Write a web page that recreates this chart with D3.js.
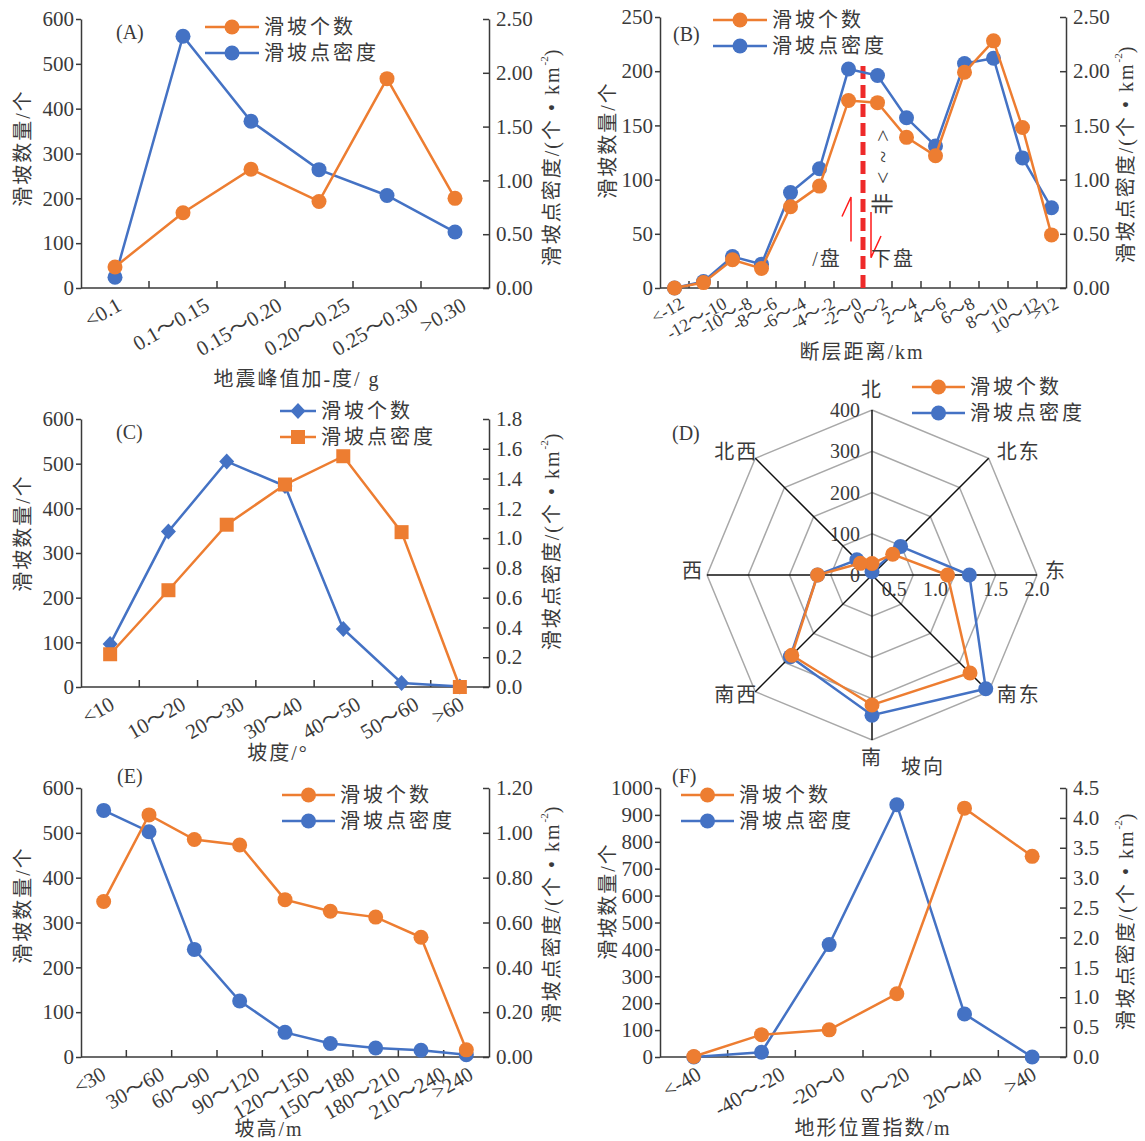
<!DOCTYPE html>
<html>
<head>
<meta charset="utf-8">
<script src="https://cdn.jsdelivr.net/npm/d3@7"></script>
<style>
  body { margin: 0; background: #fff; }
  svg text { font-family: "Liberation Serif", "Times New Roman", "Noto Sans CJK SC", serif; fill: #3a3a3a; }
</style>
</head>
<body>
<svg id="chart" width="1145" height="1141"></svg>
<script>
const ORANGE = "#ED7D31", BLUE = "#4472C4", INK = "#3a3a3a";
const seriesNames = ["滑坡个数", "滑坡点密度"];

// (A) peak ground acceleration
const pgaCats = ["<0.1", "0.1～0.15", "0.15～0.20", "0.20～0.25", "0.25～0.30", ">0.30"];
const pgaCount = [47, 168, 265, 193, 467, 200];
const pgaDensity = [0.10, 2.34, 1.55, 1.10, 0.86, 0.52];
const pgaLeftTicks = [0, 100, 200, 300, 400, 500, 600];
const pgaRightTicks = [0, 0.5, 1.0, 1.5, 2.0, 2.5];

// (B) distance to fault
const faultCats = ["<-12", "-12～-10", "-10～-8", "-8～-6", "-6～-4", "-4～-2", "-2～0", "0～2", "2～4", "4～6", "6～8", "8～10", "10～12", ">12"];
const faultCount = [0, 5, 26, 18, 75, 94, 173, 171, 139, 122, 199, 228, 148, 49];
const faultDensity = [0.0, 0.06, 0.29, 0.22, 0.88, 1.10, 2.02, 1.96, 1.57, 1.31, 2.07, 2.12, 1.20, 0.74];
const faultLeftTicks = [0, 50, 100, 150, 200, 250];
const faultRightTicks = [0, 0.5, 1.0, 1.5, 2.0, 2.5];

// (C) slope
const slopeCats = ["<10", "10～20", "20～30", "30～40", "40～50", "50～60", ">60"];
const slopeCount = [96, 348, 505, 450, 130, 9, 1];
const slopeDensity = [0.22, 0.65, 1.09, 1.36, 1.55, 1.04, 0.0];
const slopeLeftTicks = [0, 100, 200, 300, 400, 500, 600];
const slopeRightTicks = [0, 0.2, 0.4, 0.6, 0.8, 1.0, 1.2, 1.4, 1.6, 1.8];

// (D) aspect
const aspectCats = ["北", "北东", "东", "南东", "南", "南西", "西", "北西"];
const aspectCount = [28, 71, 183, 336, 315, 275, 132, 40];
const aspectDensity = [0.04, 0.49, 1.18, 1.95, 1.70, 1.40, 0.66, 0.26];
const aspectCountTicks = [0, 100, 200, 300, 400];
const aspectDensityTicks = [0.5, 1.0, 1.5, 2.0];

// (E) slope height
const heightCats = ["<30", "30～60", "60～90", "90～120", "120～150", "150～180", "180～210", "210～240", ">240"];
const heightCount = [347, 540, 485, 473, 351, 325, 312, 267, 16];
const heightDensity = [1.10, 1.005, 0.48, 0.25, 0.11, 0.06, 0.04, 0.03, 0.01];
const heightLeftTicks = [0, 100, 200, 300, 400, 500, 600];
const heightRightTicks = [0, 0.2, 0.4, 0.6, 0.8, 1.0, 1.2];

// (F) topographic position index
const tpiCats = ["<-40", "-40～-20", "-20～0", "0～20", "20～40", ">40"];
const tpiCount = [2, 83, 101, 235, 925, 746];
const tpiDensity = [0.0, 0.08, 1.88, 4.22, 0.72, 0.0];
const tpiLeftTicks = [0, 100, 200, 300, 400, 500, 600, 700, 800, 900, 1000];
const tpiRightTicks = [0, 0.5, 1.0, 1.5, 2.0, 2.5, 3.0, 3.5, 4.0, 4.5];

const svg = d3.select("#chart");

function marker(sel, shape, color) {
  if (shape === "diamond") {
    sel.append("path").attr("d", "M0,-8L7.5,0L0,8L-7.5,0Z").attr("fill", color);
  } else if (shape === "square") {
    sel.append("rect").attr("x", -7).attr("y", -7).attr("width", 14).attr("height", 14).attr("fill", color);
  } else {
    sel.append("circle").attr("r", 7.5).attr("fill", color);
  }
}

function legend(g, lg, items) {
  items.forEach((it, i) => {
    const y = lg.y + i * 26;
    g.append("line").attr("x1", lg.x1).attr("x2", lg.x2).attr("y1", y).attr("y2", y)
      .attr("stroke", it.color).attr("stroke-width", 2.5);
    marker(g.append("g").attr("transform", `translate(${(lg.x1 + lg.x2) / 2},${y})`), it.shape, it.color);
    g.append("text").attr("x", lg.x2 + 5).attr("y", y).attr("dominant-baseline", "central")
      .style("font-size", "20px").style("letter-spacing", "3px").text(it.name);
  });
}

function leftLabel(g, x, y) {
  g.append("text").attr("transform", `translate(${x},${y}) rotate(-90)`)
    .attr("text-anchor", "middle").attr("dominant-baseline", "central")
    .style("font-size", "20px").style("letter-spacing", "2px").text("滑坡数量/个");
}

function rightLabel(g, x, y) {
  const t = g.append("text").attr("transform", `translate(${x},${y}) rotate(-90)`)
    .attr("text-anchor", "middle").attr("dominant-baseline", "central")
    .style("font-size", "20px");
  t.append("tspan").style("letter-spacing", "2px").text("滑坡点密度/(个 • km");
  t.append("tspan").attr("dy", -8).style("font-size", "11px").text("-2");
  t.append("tspan").attr("dy", 8).text(")");
}

function styleAxis(a, size) {
  a.attr("font-size", null).attr("font-family", null);
  a.selectAll("path, line").attr("stroke", INK).attr("stroke-width", 1.5);
  a.selectAll("text").style("font-size", size + "px").attr("fill", INK);
}

function linePanel(p) {
  const g = svg.append("g");
  const x = d3.scaleBand().domain(p.cats).range([p.left, p.right]);
  const yL = d3.scaleLinear().domain([0, d3.max(p.leftTicks)]).range([p.bottom, p.top]);
  const yR = d3.scaleLinear().domain([0, d3.max(p.rightTicks)]).range([p.bottom, p.top]);
  const cx = d => x(d) + x.bandwidth() / 2;

  g.append("g").attr("transform", `translate(${p.left},0)`)
    .call(d3.axisLeft(yL).tickValues(p.leftTicks).tickSize(5).tickSizeOuter(0).tickPadding(2).tickFormat(d3.format("d")))
    .call(a => styleAxis(a, 21));
  g.append("g").attr("transform", `translate(${p.right},0)`)
    .call(d3.axisRight(yR).tickValues(p.rightTicks).tickSize(-6).tickSizeOuter(0).tickPadding(7).tickFormat(d3.format(p.rightFmt)))
    .call(a => styleAxis(a, 21));

  // category axis with ticks between categories
  g.append("line").attr("x1", p.left).attr("x2", p.right).attr("y1", p.bottom).attr("y2", p.bottom)
    .attr("stroke", INK).attr("stroke-width", 1.5);
  g.selectAll(".xt").data(p.cats.slice(1)).join("line")
    .attr("x1", d => x(d)).attr("x2", d => x(d)).attr("y1", p.bottom).attr("y2", p.bottom - 7)
    .attr("stroke", INK).attr("stroke-width", 1.5);
  g.selectAll(".xl").data(p.cats).join("text")
    .attr("text-anchor", "middle").attr("dominant-baseline", "central")
    .style("font-size", p.xFont + "px")
    .text(d => d)
    .attr("transform", function (d) {
      const L = this.getComputedTextLength();
      const tx = cx(d) + p.xdx;
      const ty = p.bottom + 6 + (L * 0.5 + p.xFont * 0.87) / 2;
      return `translate(${tx},${ty}) rotate(-30)`;
    });

  if (p.extra) p.extra(g, x, yL);

  p.series.forEach(s => {
    const y = s.axis === "left" ? yL : yR;
    const line = d3.line().x((d, i) => cx(p.cats[i])).y(d => y(d));
    g.append("path").attr("d", line(s.vals)).attr("fill", "none")
      .attr("stroke", s.color).attr("stroke-width", 2.5);
    s.vals.forEach((v, i) => {
      marker(g.append("g").attr("transform", `translate(${cx(p.cats[i])},${y(v)})`), s.shape, s.color);
    });
  });

  legend(g, p.legend, p.legendItems);
  g.append("text").attr("x", p.tag[1]).attr("y", p.tag[2]).style("font-size", "20px").text(p.tag[0]);
  g.append("text").attr("x", p.title[1]).attr("y", p.title[2]).attr("text-anchor", "middle")
    .attr("dominant-baseline", "central").style("font-size", "20px").style("letter-spacing", "2px").text(p.title[0]);
  leftLabel(g, p.leftLabel[0], p.leftLabel[1]);
  rightLabel(g, p.rightLabel[0], p.rightLabel[1]);
}

const circleItems = [
  { name: seriesNames[0], color: ORANGE, shape: "circle" },
  { name: seriesNames[1], color: BLUE, shape: "circle" }
];

// (A)
linePanel({
  cats: pgaCats, left: 81, right: 489, top: 19, bottom: 288,
  leftTicks: pgaLeftTicks, rightTicks: pgaRightTicks, rightFmt: ".2f", xFont: 21, xdx: -12,
  series: [
    { vals: pgaDensity, axis: "right", color: BLUE, shape: "circle" },
    { vals: pgaCount, axis: "left", color: ORANGE, shape: "circle" }
  ],
  legend: { x1: 205, x2: 259, y: 27 }, legendItems: circleItems,
  tag: ["(A)", 116, 39], title: ["地震峰值加-度/ g", 297, 379],
  leftLabel: [23, 148], rightLabel: [552, 158]
});

// (B)
const faultTop = 205;
linePanel({
  cats: faultCats, left: 660, right: 1066, top: 17, bottom: 288,
  leftTicks: faultLeftTicks, rightTicks: faultRightTicks, rightFmt: ".2f", xFont: 18, xdx: -7,
  series: [
    { vals: faultDensity, axis: "right", color: BLUE, shape: "circle" },
    { vals: faultCount, axis: "left", color: ORANGE, shape: "circle" }
  ],
  legend: { x1: 713, x2: 767, y: 20 }, legendItems: circleItems,
  tag: ["(B)", 673, 41], title: ["断层距离/km", 862, 352],
  leftLabel: [608, 140], rightLabel: [1126, 155],
  extra: (g, x, y) => {
    const fx = x("0～2");
    g.append("line").attr("x1", fx).attr("x2", fx).attr("y1", y(0)).attr("y2", y(faultTop))
      .attr("stroke", "#ee2a2a").attr("stroke-width", 5).attr("stroke-dasharray", "13,6");
    const red = { stroke: "#ff1a1a", "stroke-width": 1.5, fill: "none" };
    const up = g.append("path").attr("d", `M${fx - 12},${y(43)}V${y(84)}L${fx - 21},${y(66)}`);
    const down = g.append("path").attr("d", `M${fx + 8},${y(70)}V${y(28)}L${fx + 18},${y(48)}`);
    [up, down].forEach(s => Object.entries(red).forEach(([k, v]) => s.attr(k, v)));
    g.append("text").attr("x", fx - 36).attr("y", y(27)).attr("text-anchor", "middle")
      .attr("dominant-baseline", "central").style("font-size", "20px").style("letter-spacing", "2px").text("/盘");
    g.append("text").attr("x", fx + 30).attr("y", y(27)).attr("text-anchor", "middle")
      .attr("dominant-baseline", "central").style("font-size", "20px").style("letter-spacing", "2px").text("下盘");
    g.append("text").attr("transform", `translate(${fx + 19},${y(111)}) rotate(-90)`)
      .attr("text-anchor", "middle").attr("dominant-baseline", "central")
      .style("font-size", "22px").style("letter-spacing", "9px").text("非<~>");
  }
});

// (C)
linePanel({
  cats: slopeCats, left: 81, right: 489, top: 419, bottom: 687,
  leftTicks: slopeLeftTicks, rightTicks: slopeRightTicks, rightFmt: ".1f", xFont: 21, xdx: -12,
  series: [
    { vals: slopeCount, axis: "left", color: BLUE, shape: "diamond" },
    { vals: slopeDensity, axis: "right", color: ORANGE, shape: "square" }
  ],
  legend: { x1: 280, x2: 316, y: 411 },
  legendItems: [
    { name: seriesNames[0], color: BLUE, shape: "diamond" },
    { name: seriesNames[1], color: ORANGE, shape: "square" }
  ],
  tag: ["(C)", 116, 439], title: ["坡度/°", 278, 753],
  leftLabel: [23, 533], rightLabel: [552, 542]
});

// (D) radar
(function () {
  const g = svg.append("g");
  const cx = 872, cy = 575, R = 165;
  const rC = d3.scaleLinear().domain([0, d3.max(aspectCountTicks)]).range([0, R]);
  const rD = d3.scaleLinear().domain([0, d3.max(aspectDensityTicks)]).range([0, R]);
  const ang = d3.scalePoint().domain(aspectCats).range([0, Math.PI * 2 * 7 / 8]);
  const pt = (r, c) => [cx + r * Math.sin(ang(c)), cy - r * Math.cos(ang(c))];
  const ring = d3.line().curve(d3.curveLinearClosed);

  aspectCountTicks.slice(1).forEach(v => {
    g.append("path").attr("d", ring(aspectCats.map(c => pt(rC(v), c))))
      .attr("fill", "none").attr("stroke", "#a8a8a8").attr("stroke-width", 1.5);
  });
  aspectCats.forEach(c => {
    const [x2, y2] = pt(R, c);
    g.append("line").attr("x1", cx).attr("y1", cy).attr("x2", x2).attr("y2", y2)
      .attr("stroke", "#111").attr("stroke-width", 1.5);
    const s = Math.sin(ang(c)), k = Math.cos(ang(c));
    const anchor = s > 0.1 ? "start" : s < -0.1 ? "end" : "middle";
    const dx = s > 0.1 ? 8 : s < -0.1 ? (Math.abs(k) > 0.1 ? 3 : -3) : 0;
    const dy = k > 0.9 ? -20 : k < -0.9 ? 18 : k > 0.1 ? -6 : k < -0.1 ? 3 : -4;
    g.append("text").attr("x", x2 + dx).attr("y", y2 + dy).attr("text-anchor", anchor)
      .attr("dominant-baseline", "central").style("font-size", "20px").style("letter-spacing", "2px").text(c);
  });
  aspectCountTicks.forEach(v => {
    g.append("text").attr("x", cx - 12).attr("y", cy - rC(v)).attr("text-anchor", "end")
      .attr("dominant-baseline", "central").style("font-size", "20px").text(v);
  });
  aspectDensityTicks.forEach(v => {
    g.append("text").attr("x", cx + rD(v) + (v < 1.25 ? -19 : 0)).attr("y", cy + 14)
      .attr("text-anchor", "middle").attr("dominant-baseline", "central")
      .style("font-size", "20px").text(d3.format(".1f")(v));
  });

  [[aspectDensity, rD, BLUE], [aspectCount, rC, ORANGE]].forEach(([vals, sc, color]) => {
    const pts = vals.map((v, i) => pt(sc(v), aspectCats[i]));
    g.append("path").attr("d", ring(pts)).attr("fill", "none").attr("stroke", color).attr("stroke-width", 2.5);
    pts.forEach(p => g.append("circle").attr("cx", p[0]).attr("cy", p[1]).attr("r", 7.5).attr("fill", color));
  });

  legend(g, { x1: 912, x2: 965, y: 387 }, circleItems);
  g.append("text").attr("x", 672).attr("y", 440).style("font-size", "20px").text("(D)");
  g.append("text").attr("x", 923).attr("y", 767).attr("text-anchor", "middle").attr("dominant-baseline", "central")
    .style("font-size", "20px").style("letter-spacing", "2px").text("坡向");
})();

// (E)
linePanel({
  cats: heightCats, left: 81, right: 489, top: 788, bottom: 1057,
  leftTicks: heightLeftTicks, rightTicks: heightRightTicks, rightFmt: ".2f", xFont: 21, xdx: -14,
  series: [
    { vals: heightDensity, axis: "right", color: BLUE, shape: "circle" },
    { vals: heightCount, axis: "left", color: ORANGE, shape: "circle" }
  ],
  legend: { x1: 282, x2: 335, y: 795 }, legendItems: circleItems,
  tag: ["(E)", 117, 783], title: ["坡高/m", 269, 1129],
  leftLabel: [23, 905], rightLabel: [552, 915]
});

// (F)
linePanel({
  cats: tpiCats, left: 660, right: 1066, top: 788, bottom: 1057,
  leftTicks: tpiLeftTicks, rightTicks: tpiRightTicks, rightFmt: ".1f", xFont: 21, xdx: -12,
  series: [
    { vals: tpiDensity, axis: "right", color: BLUE, shape: "circle" },
    { vals: tpiCount, axis: "left", color: ORANGE, shape: "circle" }
  ],
  legend: { x1: 681, x2: 734, y: 795 }, legendItems: circleItems,
  tag: ["(F)", 672, 783], title: ["地形位置指数/m", 873, 1128],
  leftLabel: [608, 901], rightLabel: [1126, 922]
});
</script>
</body>
</html>
